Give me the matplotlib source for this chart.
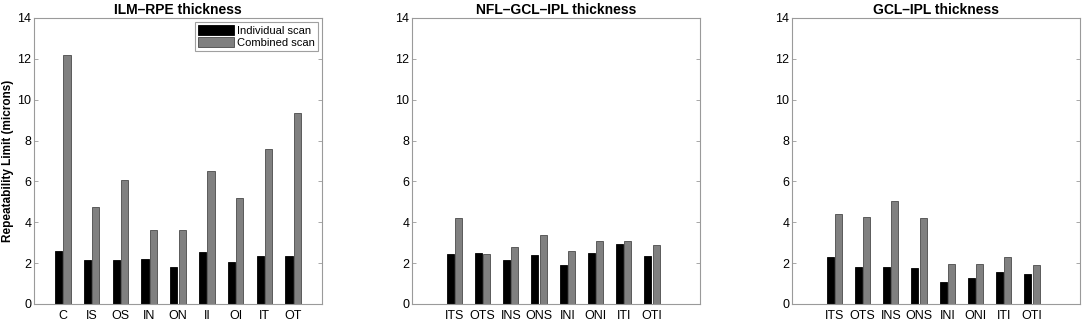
import matplotlib
matplotlib.use('agg')
import matplotlib.pyplot as plt
import numpy as np

plt.rcParams['font.family'] = ['Liberation Sans', 'DejaVu Sans']

# panel 1: ILM-RPE
ilm_labels = ['C', 'IS', 'OS', 'IN', 'ON', 'II', 'OI', 'IT', 'OT']
ilm_individual = [2.6, 2.15, 2.15, 2.2, 1.8, 2.55, 2.05, 2.35, 2.35]
ilm_combined = [12.2, 4.75, 6.05, 3.6, 3.6, 6.5, 5.2, 7.6, 9.35]

# panel 2: NFL-GCL-IPL
nfl_labels = ['ITS', 'OTS', 'INS', 'ONS', 'INI', 'ONI', 'ITI', 'OTI']
nfl_individual = [2.45, 2.5, 2.15, 2.4, 1.9, 2.5, 2.95, 2.35]
nfl_combined = [4.2, 2.45, 2.8, 3.4, 2.6, 3.1, 3.1, 2.9]

# panel 3: GCL-IPL
gcl_labels = ['ITS', 'OTS', 'INS', 'ONS', 'INI', 'ONI', 'ITI', 'OTI']
gcl_individual = [2.3, 1.8, 1.8, 1.75, 1.1, 1.25, 1.55, 1.45]
gcl_combined = [4.4, 4.25, 5.05, 4.2, 1.95, 1.95, 2.3, 1.9]

titles = ['ILM\u2013RPE thickness', 'NFL\u2013GCL\u2013IPL thickness', 'GCL\u2013IPL thickness']

W, H = 1084, 323
fig = plt.figure(figsize=(W / 100, H / 100), dpi=100)

lefts = [34, 412, 792]
width_px = 288
bottom_px, top_px = 304, 18

BAR_W = 0.25
OFF = 0.145

panels = [
    (ilm_labels, ilm_individual, ilm_combined, (0, 10)),
    (nfl_labels, nfl_individual, nfl_combined, (-0.5, 9.7)),
    (gcl_labels, gcl_individual, gcl_combined, (-0.5, 9.7)),
]

for k, (labels, ind, comb, xl) in enumerate(panels):
    ax = fig.add_axes([lefts[k] / W, (H - bottom_px) / H,
                       width_px / W, (bottom_px - top_px) / H])
    x = np.arange(1, len(labels) + 1)
    ax.bar(x - OFF, ind, BAR_W, color='black', edgecolor='black',
           linewidth=0.6, label='Individual scan')
    ax.bar(x + OFF, comb, BAR_W, color='#808080', edgecolor='#4a4a4a',
           linewidth=0.6, label='Combined scan')
    ax.set_xlim(*xl)
    ax.set_ylim(0, 14)
    ax.set_yticks(range(0, 15, 2))
    ax.set_xticks(x)
    ax.set_xticklabels(labels)
    ax.tick_params(direction='in', length=3, width=0.6, color='#999999',
                   labelsize=9, top=True, right=True, pad=2)
    ax.tick_params(axis='x', length=0, pad=4)
    for s in ax.spines.values():
        s.set_color('#9a9a9a')
        s.set_linewidth(0.8)
    ax.set_title(titles[k], fontsize=10, fontweight='bold', pad=3)
    if k == 0:
        ax.set_ylabel('Repeatability Limit (microns)', fontsize=8.5,
                      fontweight='bold', labelpad=2)
        leg = ax.legend(loc='upper right', fontsize=8, frameon=True,
                        fancybox=False, handlelength=3.2, handleheight=1.0,
                        handletextpad=0.3, borderpad=0.25, labelspacing=0.1,
                        borderaxespad=0.4)
        leg.get_frame().set_edgecolor('#888888')
        leg.get_frame().set_linewidth(0.8)

fig.savefig('out.png', dpi=100)
